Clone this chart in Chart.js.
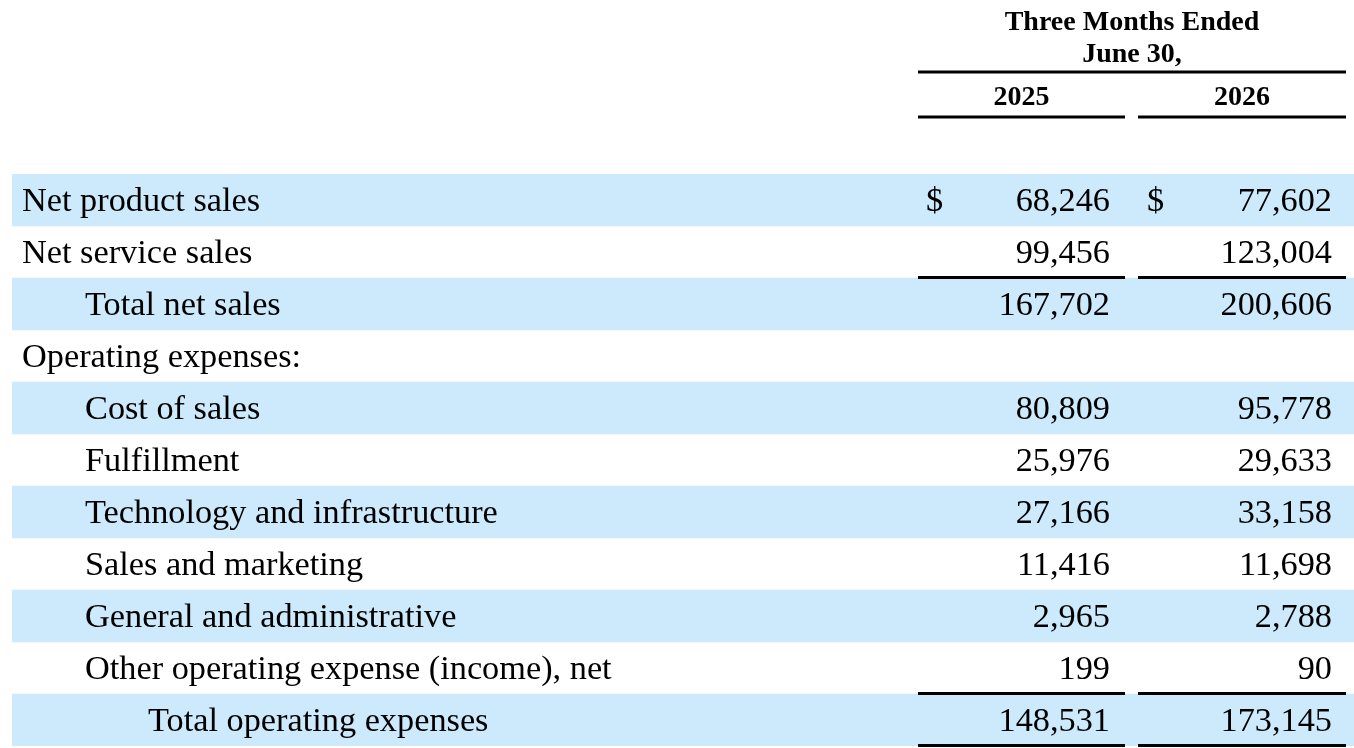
<!DOCTYPE html>
<html>
<head>
<meta charset="utf-8">
<script src="https://cdn.jsdelivr.net/npm/chart.js@4.4.1/dist/chart.umd.min.js"></script>
<style>
  html, body { margin: 0; padding: 0; background: #fff; }
  #wrap { width: 1354px; height: 748px; position: relative; }
</style>
</head>
<body>
<div id="wrap"><canvas id="myChart"></canvas></div>
<script>
const periodTitle = ['Three Months Ended', 'June 30,'];
const years = ['2025', '2026'];

const rowLabels = [
  'Net product sales',
  'Net service sales',
  'Total net sales',
  'Operating expenses:',
  'Cost of sales',
  'Fulfillment',
  'Technology and infrastructure',
  'Sales and marketing',
  'General and administrative',
  'Other operating expense (income), net',
  'Total operating expenses',
];
// indent level of each row label
const rowLevel = [0, 0, 1, 0, 1, 1, 1, 1, 1, 1, 2];

const values2025 = [68246, 99456, 167702, null, 80809, 25976, 27166, 11416, 2965, 199, 148531];
const values2026 = [77602, 123004, 200606, null, 95778, 29633, 33158, 11698, 2788, 90, 173145];

// rows that get a "$" and rows that get a rule underneath
const dollarRows = [0];
const ruleRows = [1, 9, 10];

const SERIF = '"Liberation Serif", "Times New Roman", serif';
const stripeColor = 'rgb(204, 234, 252)';

function fmt(v) {
  return v.toLocaleString('en-US');
}

const tablePlugin = {
  id: 'tableText',
  afterDatasetsDraw(chart) {
    const ctx = chart.ctx;
    const y = chart.scales.y;
    const cols = [
      { left: 918, right: 1125, dollar: 926, num: 1110 },
      { left: 1138, right: 1346, dollar: 1147, num: 1332 },
    ];
    const colValues = [values2025, values2026];

    ctx.save();
    ctx.fillStyle = '#000';

    // header
    ctx.font = 'bold 28px ' + SERIF;
    ctx.textAlign = 'center';
    ctx.textBaseline = 'alphabetic';
    ctx.fillText(periodTitle[0], 1132, 30);
    ctx.fillText(periodTitle[1], 1132, 62);
    ctx.fillRect(918, 70.5, 428, 3);
    years.forEach((yr, c) => {
      ctx.fillText(yr, (cols[c].left + cols[c].right) / 2, 105);
      ctx.fillRect(cols[c].left, 115.5, cols[c].right - cols[c].left, 3);
    });

    // body rows
    const band = y.getPixelForValue(1) - y.getPixelForValue(0);
    ctx.font = '34.3px ' + SERIF;
    rowLabels.forEach((lab, i) => {
      const cy = y.getPixelForValue(i);
      const base = cy + 11;
      ctx.textAlign = 'left';
      ctx.fillText(lab, 22 + rowLevel[i] * 63, base);
      colValues.forEach((vals, c) => {
        if (dollarRows.includes(i)) {
          ctx.textAlign = 'left';
          ctx.fillText('$', cols[c].dollar, base);
        }
        if (vals[i] !== null) {
          ctx.textAlign = 'right';
          ctx.fillText(fmt(vals[i]), cols[c].num, base);
        }
        if (ruleRows.includes(i)) {
          ctx.fillRect(cols[c].left, cy + band / 2 - 2, cols[c].right - cols[c].left, 3);
        }
      });
    });
    ctx.restore();
  }
};

const data = {
  labels: rowLabels,
  datasets: [{
    label: 'stripes',
    data: rowLabels.map((_, i) => (i % 2 === 0 ? 1 : null)),
    backgroundColor: stripeColor,
    borderWidth: 0,
    barPercentage: 1,
    categoryPercentage: 1,
  }]
};

const config = {
  type: 'bar',
  data: data,
  options: {
    indexAxis: 'y',
    responsive: true,
    maintainAspectRatio: false,
    animation: false,
    events: [],
    layout: { padding: { top: 174, bottom: 2, left: 12, right: 0 } },
    scales: {
      x: { type: 'linear', min: 0, max: 1, display: false },
      y: { type: 'category', display: false, offset: true },
    },
    plugins: {
      legend: { display: false },
      title: { display: false },
      tooltip: { enabled: false },
    }
  },
  plugins: [tablePlugin]
};

const myChart = new Chart(document.getElementById('myChart'), config);
</script>
</body>
</html>
